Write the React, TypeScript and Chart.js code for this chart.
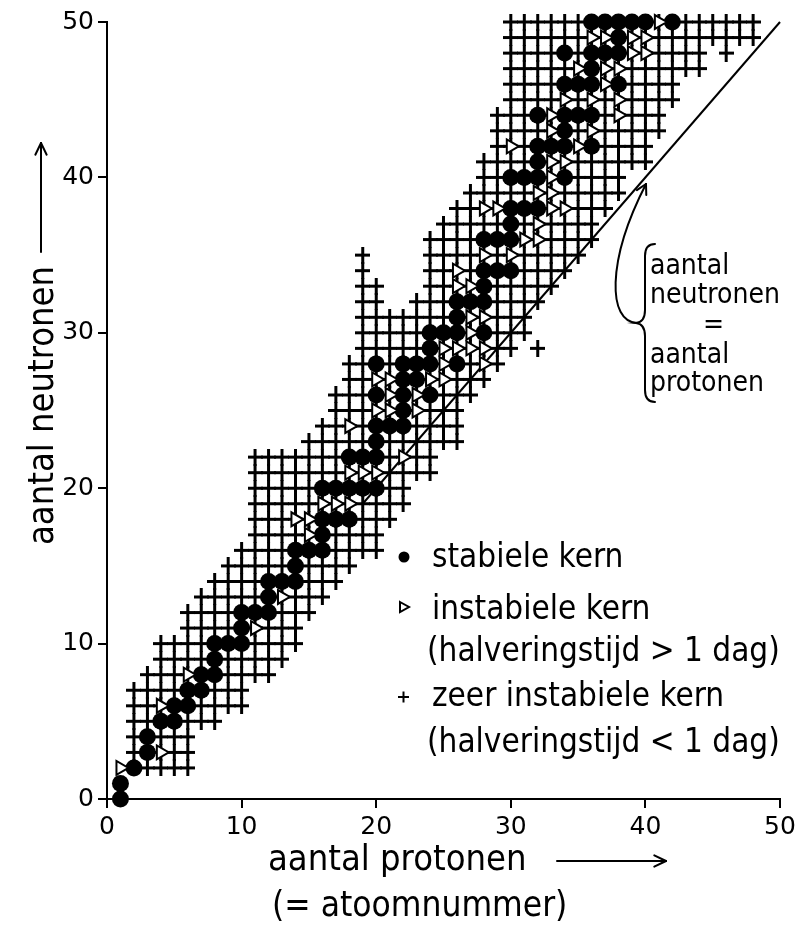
import React, { useEffect, useRef } from 'react';
import { Chart, registerables } from 'chart.js';

Chart.register(...registerables);

const FONT = "'DejaVu Sans Condensed', 'DejaVu Sans', sans-serif";
const TICK_FONT = "'DejaVu Sans', sans-serif";

// very unstable nuclides (half-life < 1 day): per proton number Z, lowest and highest neutron number N
const crossZ = [2, 3, 4, 5, 6, 7, 8, 9, 10, 11, 12, 13, 14, 15, 16, 17, 18, 19, 20, 21, 22, 23, 24, 25,
  26, 27, 28, 29, 30, 31, 32, 33, 34, 35, 36, 37, 38, 39, 40, 41, 42, 43, 44, 45, 46, 47, 48];
const crossNMin = [2, 2, 2, 2, 2, 5, 5, 6, 6, 8, 8, 9, 10, 12, 13, 14, 15, 16, 16, 18, 19, 21, 21, 23,
  23, 26, 27, 28, 29, 30, 32, 33, 34, 35, 36, 38, 39, 41, 41, 43, 45, 47, 47, 49, 49, 49, 49];
const crossNMax = [7, 8, 10, 10, 12, 13, 14, 15, 16, 22, 22, 22, 22, 23, 24, 26, 28, 35, 33, 31, 31, 32, 36, 37,
  38, 39, 41, 44, 50, 50, 50, 50, 50, 50, 50, 50, 50, 50, 50, 50, 50, 50, 50, 50, 50, 50, 50];
// isolated very unstable nuclides [Z, N]
const extraCross: [number, number][] = [[32, 29], [46, 48]];

// stable nuclides [Z, N]
const stable: [number, number][] = [
  [1, 0], [1, 1], [2, 2], [3, 3], [3, 4], [4, 5], [5, 5], [5, 6], [6, 6], [6, 7], [7, 7], [7, 8],
  [8, 8], [8, 9], [8, 10], [9, 10], [10, 10], [10, 11], [10, 12], [11, 12], [12, 12], [12, 13], [12, 14],
  [13, 14], [14, 14], [14, 15], [14, 16], [15, 16], [16, 16], [16, 17], [16, 18], [16, 20], [17, 18], [17, 20],
  [18, 18], [18, 20], [18, 22], [19, 20], [19, 22], [20, 20], [20, 22], [20, 23], [20, 24], [20, 26], [20, 28],
  [21, 24], [22, 24], [22, 25], [22, 26], [22, 27], [22, 28], [23, 27], [23, 28], [24, 26], [24, 28], [24, 29],
  [24, 30], [25, 30], [26, 28], [26, 30], [26, 31], [26, 32], [27, 32], [28, 30], [28, 32], [28, 33], [28, 34],
  [28, 36], [29, 34], [29, 36], [30, 34], [30, 36], [30, 37], [30, 38], [30, 40], [31, 38], [31, 40], [32, 38],
  [32, 40], [32, 41], [32, 42], [32, 44], [33, 42], [34, 40], [34, 42], [34, 43], [34, 44], [34, 46], [34, 48],
  [35, 44], [35, 46], [36, 42], [36, 44], [36, 46], [36, 47], [36, 48], [36, 50], [37, 48], [37, 50], [38, 46],
  [38, 48], [38, 49], [38, 50], [39, 50], [40, 50], [42, 50]];

// unstable nuclides with half-life > 1 day [Z, N]
const unstable: [number, number][] = [
  [1, 2], [4, 3], [4, 6], [6, 8], [11, 11], [13, 13], [14, 18], [15, 17], [15, 18], [16, 19], [17, 19],
  [18, 19], [18, 21], [18, 24], [19, 21], [20, 21], [20, 25], [20, 27], [21, 25], [21, 26], [21, 27], [22, 22],
  [23, 25], [23, 26], [24, 27], [25, 27], [25, 28], [25, 29], [26, 29], [26, 33], [26, 34], [27, 29], [27, 30],
  [27, 31], [27, 33], [28, 28], [28, 29], [28, 31], [28, 35], [28, 38], [29, 38], [30, 35], [30, 42], [31, 36],
  [32, 36], [32, 37], [32, 39], [33, 38], [33, 39], [33, 40], [33, 41], [33, 43], [33, 44], [34, 38], [34, 41],
  [34, 45], [35, 42], [35, 47], [36, 43], [36, 45], [36, 49], [37, 46], [37, 47], [37, 49], [38, 44], [38, 45],
  [38, 47], [39, 48], [39, 49], [40, 48], [40, 49], [41, 50]];

// line N = Z
const lineZ = [19, 50];
const lineN = [19, 50];

const tickValues = [0, 10, 20, 30, 40, 50];

function makeCross(): HTMLCanvasElement {
  const c = document.createElement('canvas');
  c.width = 15;
  c.height = 17;
  const g = c.getContext('2d')!;
  g.fillStyle = '#000';
  g.fillRect(0, 7, 15, 3);
  g.fillRect(6, 0, 3, 17);
  return c;
}

function seg(ctx: CanvasRenderingContext2D, x1: number, y1: number, x2: number, y2: number) {
  ctx.beginPath();
  ctx.moveTo(x1, y1);
  ctx.lineTo(x2, y2);
  ctx.stroke();
}

function arrowHead(ctx: CanvasRenderingContext2D, tx: number, ty: number, dx: number, dy: number, len: number, ang: number) {
  const a = Math.atan2(dy, dx);
  seg(ctx, tx, ty, tx - len * Math.cos(a - ang), ty - len * Math.sin(a - ang));
  seg(ctx, tx, ty, tx - len * Math.cos(a + ang), ty - len * Math.sin(a + ang));
}

const annotPlugin = {
  id: 'annot',
  afterDraw(chart: any) {
    const ctx: CanvasRenderingContext2D = chart.ctx;
    ctx.save();
    ctx.fillStyle = '#000';
    ctx.strokeStyle = '#000';
    ctx.lineCap = 'round';
    ctx.textAlign = 'left';
    ctx.textBaseline = 'alphabetic';

    // x axis title
    ctx.font = `36px ${FONT}`;
    ctx.fillText('aantal protonen', 268, 870);
    ctx.font = `35px ${FONT}`;
    ctx.fillText('(= atoomnummer)', 272, 916);
    ctx.lineWidth = 2;
    seg(ctx, 557, 861, 666, 861);
    arrowHead(ctx, 666, 861, 1, 0, 13, 0.45);

    // y axis title
    ctx.font = `36px ${FONT}`;
    ctx.save();
    ctx.translate(53, 545);
    ctx.rotate(-Math.PI / 2);
    ctx.fillText('aantal neutronen', 0, 0);
    ctx.restore();
    seg(ctx, 41, 252, 41, 143);
    arrowHead(ctx, 41, 143, 0, -1, 13, 0.45);

    // legend
    ctx.font = `33px ${FONT}`;
    ctx.beginPath();
    ctx.arc(404, 557, 5.5, 0, Math.PI * 2);
    ctx.fill();
    ctx.fillText('stabiele kern', 432, 567);

    ctx.lineWidth = 2;
    ctx.lineCap = 'butt';
    ctx.beginPath();
    ctx.moveTo(400, 602);
    ctx.lineTo(409, 607);
    ctx.lineTo(400, 612);
    ctx.closePath();
    ctx.stroke();
    ctx.fillText('instabiele kern', 432, 619);
    ctx.fillText('(halveringstijd > 1 dag)', 427, 661);

    seg(ctx, 398, 697, 409, 697);
    seg(ctx, 403.5, 691.5, 403.5, 702.5);
    ctx.fillText('zeer instabiele kern', 432, 706);
    ctx.fillText('(halveringstijd < 1 dag)', 427, 752);

    // annotation with brace and arrow
    ctx.lineCap = 'round';
    ctx.lineWidth = 2;
    ctx.beginPath();
    ctx.moveTo(655, 244);
    ctx.quadraticCurveTo(645, 244, 645, 256);
    ctx.lineTo(645, 310);
    ctx.quadraticCurveTo(645, 322, 636, 323);
    ctx.quadraticCurveTo(645, 324, 645, 336);
    ctx.lineTo(645, 390);
    ctx.quadraticCurveTo(645, 402, 655, 402);
    ctx.stroke();

    ctx.beginPath();
    ctx.moveTo(637, 323);
    ctx.bezierCurveTo(608, 322, 606, 262, 646, 184);
    ctx.stroke();
    arrowHead(ctx, 646, 184, 40, -78, 11, 0.5);

    ctx.font = `28px ${FONT}`;
    ctx.fillText('aantal', 650, 274);
    ctx.fillText('neutronen', 650, 303);
    ctx.fillText('=', 703, 333);
    ctx.fillText('aantal', 650, 363);
    ctx.fillText('protonen', 650, 391);
    ctx.restore();
  }
};

export default function App() {
  const ref = useRef<HTMLCanvasElement | null>(null);

  useEffect(() => {
    const canvas = ref.current;
    if (!canvas) return;

    const crossPts: { x: number; y: number }[] = [];
    crossZ.forEach((z, i) => {
      for (let n = crossNMin[i]; n <= crossNMax[i]; n++) crossPts.push({ x: z, y: n });
    });
    extraCross.forEach(([z, n]) => crossPts.push({ x: z, y: n }));
    const stablePts = stable.map(([z, n]) => ({ x: z, y: n }));
    const unstablePts = unstable.map(([z, n]) => ({ x: z, y: n }));
    const linePts = lineZ.map((z, i) => ({ x: z, y: lineN[i] }));

    const crossImg = makeCross();

    const axis = (afterFit: (s: any) => void) => ({
      type: 'linear' as const,
      min: 0,
      max: 50,
      afterFit,
      afterBuildTicks: (s: any) => {
        s.ticks = tickValues.map((v) => ({ value: v }));
      },
      ticks: {
        color: '#000',
        font: { family: TICK_FONT, size: 25 },
        padding: 4,
        maxRotation: 0,
        autoSkip: false,
      },
      grid: {
        drawOnChartArea: false,
        drawTicks: true,
        tickLength: 9,
        color: '#000',
        lineWidth: 2,
      },
      border: { display: true, color: '#000', width: 2 },
    });

    const chart = new Chart(canvas, {
      type: 'scatter',
      data: {
        datasets: [
          {
            label: 'instabiele kern',
            data: unstablePts,
            pointStyle: 'triangle',
            pointRotation: 90,
            pointRadius: 8,
            pointBackgroundColor: '#fff',
            pointBorderColor: '#000',
            pointBorderWidth: 2,
            backgroundColor: '#fff',
            borderColor: '#000',
            order: 1,
            clip: false,
          } as any,
          {
            label: 'stabiele kern',
            data: stablePts,
            pointStyle: 'circle',
            pointRadius: 8.5,
            pointBackgroundColor: '#000',
            pointBorderColor: '#000',
            pointBorderWidth: 0,
            backgroundColor: '#000',
            borderColor: '#000',
            order: 2,
            clip: false,
          } as any,
          {
            type: 'line',
            label: 'N = Z',
            data: linePts,
            borderColor: '#000',
            borderWidth: 2,
            pointRadius: 0,
            showLine: true,
            fill: false,
            order: 3,
            clip: false,
          } as any,
          {
            label: 'zeer instabiele kern',
            data: crossPts,
            pointStyle: crossImg,
            pointRadius: 8,
            order: 4,
            clip: false,
          } as any,
        ],
      },
      options: {
        animation: false,
        responsive: false,
        events: [],
        layout: { padding: { top: 22, right: 31, bottom: 0, left: 0 } },
        plugins: {
          legend: { display: false },
          tooltip: { enabled: false },
        },
        scales: {
          x: axis((s) => { s.height = 126; }),
          y: axis((s) => { s.width = 107; }),
        } as any,
      },
      plugins: [annotPlugin],
    });

    return () => chart.destroy();
  }, []);

  return (
    <div style={{ position: 'fixed', left: 0, top: 0, width: 811, height: 925, background: '#fff' }}>
      <canvas ref={ref} width={811} height={925} style={{ display: 'block', width: 811, height: 925 }} />
    </div>
  );
}
